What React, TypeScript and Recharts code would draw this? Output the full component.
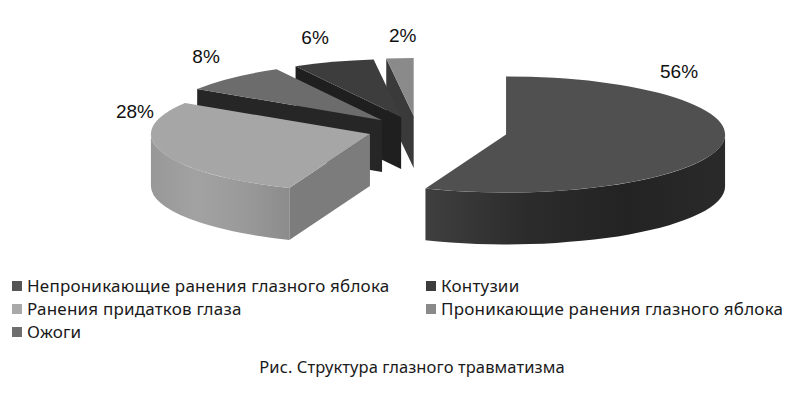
import React from 'react';
import { PieChart, Pie, Legend } from 'recharts';

// legend order (clockwise from 12 o'clock in the picture)
const NAMES = [
  'Непроникающие ранения глазного яблока',
  'Ранения придатков глаза',
  'Ожоги',
  'Контузии',
  'Проникающие ранения глазного яблока',
];
const VALUES = [56, 28, 8, 6, 2];
const CAPTION = 'Рис. Структура глазного травматизма';

// styles, same order as NAMES
const TOP = ['#505050', '#a6a6a6', '#6c6c6c', '#3d3d3d', '#8a8a8a'];
const CUT = ['#3f3f3f', '#7c7c7c', '#262626', '#1f1f1f', '#3a3a3a'];
const WALL: string[][] = [
  ['#3f3f3f', '#2c2c2c', '#232323', '#2a2a2a'],
  ['#989898', '#a2a2a2', '#9a9a9a', '#8c8c8c'],
  ['#555', '#555', '#555', '#555'],
  ['#2a2a2a', '#2a2a2a', '#2a2a2a', '#2a2a2a'],
  ['#6a6a6a', '#6a6a6a', '#6a6a6a', '#6a6a6a'],
];
const LEGEND_COLORS = ['#555555', '#a9a9a9', '#6e6e6e', '#3c3c3c', '#8a8a8a'];
const EXPLODE = [0.414, 0.226, 0.233, 0.235, 0.24];
const LABEL_OFFSET = [[173, -57], [-235, -16], [-176, -57], [-86, -73], [-11, -74]];

// drawn back to front, counter-clockwise from 12 o'clock
const PIE_DATA = NAMES.map((name, i) => ({ name, value: VALUES[i] })).reverse();

const CX = 417;
const CY = 130;
const R = 219;
const TILT = 0.265;
const DEPTH = 0.237;
const RAD = Math.PI / 180;

const center = (i: number, mid: number) => {
  const e = EXPLODE[i] * R;
  return [CX + e * Math.cos(mid * RAD), CY - e * Math.sin(mid * RAD) * TILT];
};

const renderSlice = (props: any) => {
  const i = NAMES.indexOf(props.name ?? props.payload?.name);
  const a1 = Math.min(props.startAngle, props.endAngle);
  const a2 = Math.max(props.startAngle, props.endAngle);
  const rx = props.outerRadius;
  const ry = rx * TILT;
  const h = rx * DEPTH;
  const [ox, oy] = center(i, (a1 + a2) / 2);
  const P = (t: number) => [ox + rx * Math.cos(t * RAD), oy - ry * Math.sin(t * RAD)];
  const p1 = P(a1);
  const p2 = P(a2);
  const large = a2 - a1 > 180 ? 1 : 0;
  const top = `M${ox},${oy} L${p1[0]},${p1[1]} A${rx},${ry} 0 ${large} 0 ${p2[0]},${p2[1]} Z`;

  const cut = (a: number) => {
    const p = P(a);
    return `M${ox},${oy} L${p[0]},${p[1]} L${p[0]},${p[1] + h} L${ox},${oy + h} Z`;
  };

  const w1 = Math.max(a1, 180);
  const w2 = Math.min(a2, 360);
  let wall = '';
  if (w2 > w1) {
    const q1 = P(w1);
    const q2 = P(w2);
    wall = `M${q1[0]},${q1[1]} A${rx},${ry} 0 0 0 ${q2[0]},${q2[1]} L${q2[0]},${q2[1] + h} A${rx},${ry} 0 0 1 ${q1[0]},${q1[1] + h} Z`;
  }
  const gid = `wall-${i}`;
  const stops = WALL[i];

  return (
    <g>
      <defs>
        <linearGradient id={gid} x1="0" y1="0" x2="1" y2="0">
          {stops.map((c, k) => (
            <stop key={k} offset={k / (stops.length - 1)} stopColor={c} />
          ))}
        </linearGradient>
      </defs>
      {Math.cos(a1 * RAD) > 0.001 && <path d={cut(a1)} fill={CUT[i]} />}
      {Math.cos(a2 * RAD) < -0.001 && <path d={cut(a2)} fill={CUT[i]} />}
      {wall && <path d={wall} fill={`url(#${gid})`} />}
      <path d={top} fill={TOP[i]} />
    </g>
  );
};

const renderLabel = (props: any) => {
  const i = NAMES.indexOf(props.name ?? props.payload?.name);
  const [ox, oy] = center(i, props.midAngle);
  return (
    <text
      x={ox + LABEL_OFFSET[i][0]}
      y={oy + LABEL_OFFSET[i][1]}
      textAnchor="middle"
      fill="#111"
      fontSize={19}
      fontFamily="'Liberation Sans', Arial, sans-serif"
    >
      {`${props.value}%`}
    </text>
  );
};

const renderLegend = () => {
  const item = (i: number) => (
    <div key={i} style={{ display: 'flex', alignItems: 'center', height: 23 }}>
      <span style={{ width: 10, height: 10, background: LEGEND_COLORS[i], marginRight: 5, flex: 'none' }} />
      <span>{NAMES[i]}</span>
    </div>
  );
  return (
    <div
      style={{
        position: 'relative',
        height: 72,
        fontFamily: "'Noto Sans', sans-serif",
        fontSize: 17,
        letterSpacing: 0.2,
        color: '#1a1a1a',
        whiteSpace: 'nowrap',
      }}
    >
      <div style={{ position: 'absolute', left: 12, top: 0 }}>{[0, 1, 2].map(item)}</div>
      <div style={{ position: 'absolute', left: 426, top: 0 }}>{[3, 4].map(item)}</div>
    </div>
  );
};

export default function App() {
  return (
    <div style={{ position: 'absolute', left: 0, top: 0, width: 800, height: 393, background: '#fff' }}>
      <PieChart width={800} height={393} margin={{ top: 0, right: 0, bottom: 0, left: 0 }}>
        <Pie
          data={PIE_DATA}
          dataKey="value"
          nameKey="name"
          cx={CX}
          cy={CY}
          outerRadius={R}
          startAngle={90}
          endAngle={450}
          stroke="none"
          shape={renderSlice}
          activeShape={renderSlice}
          label={renderLabel}
          labelLine={false}
          isAnimationActive={false}
        />
        <Legend
          content={renderLegend}
          wrapperStyle={{ position: 'absolute', left: 0, top: 274, width: 800, height: 72 }}
        />
      </PieChart>
      <div
        style={{
          position: 'absolute',
          left: 0,
          top: 355,
          width: 824,
          textAlign: 'center',
          fontFamily: "'Noto Sans', sans-serif",
          fontSize: 16.5,
          letterSpacing: 0.1,
          color: '#1a1a1a',
        }}
      >
        {CAPTION}
      </div>
    </div>
  );
}
